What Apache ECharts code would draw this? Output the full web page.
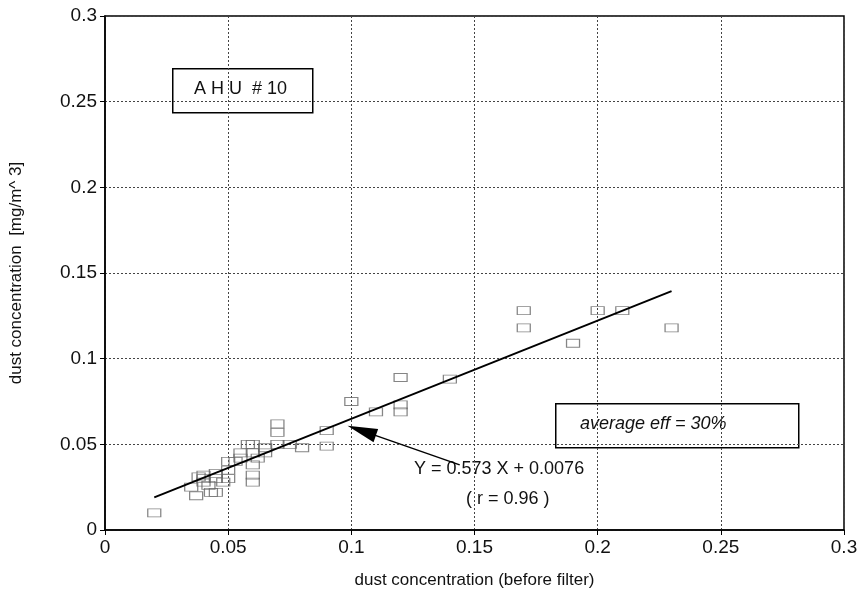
<!DOCTYPE html>
<html>
<head>
<meta charset="utf-8">
<script src="https://cdn.jsdelivr.net/npm/echarts@6/dist/echarts.min.js"></script>
<style>
  html, body { margin: 0; padding: 0; background: #fff; }
  #chart { width: 862px; height: 596px; }
</style>
</head>
<body>
<div id="chart"></div>
<script>
// measured points: dust before filter (x) vs after filter (y), mg/m^3
var beforeFilter = [
  0.02, 0.035, 0.037, 0.038, 0.04, 0.04, 0.04, 0.042, 0.043, 0.045,
  0.045, 0.045, 0.048, 0.05, 0.05, 0.05, 0.053, 0.055, 0.055, 0.058,
  0.06, 0.06, 0.06, 0.06, 0.06, 0.062, 0.065, 0.065, 0.07, 0.07,
  0.07, 0.075, 0.08, 0.09, 0.09, 0.1, 0.11, 0.12, 0.12, 0.12,
  0.14, 0.17, 0.17, 0.19, 0.2, 0.21, 0.23
];
var afterFilter = [
  0.01, 0.025, 0.02, 0.031, 0.03, 0.028, 0.032, 0.026, 0.022, 0.03,
  0.033, 0.022, 0.028, 0.03, 0.035, 0.04, 0.04, 0.045, 0.042, 0.05,
  0.05, 0.045, 0.038, 0.032, 0.028, 0.042, 0.045, 0.048, 0.05, 0.062,
  0.057, 0.05, 0.048, 0.049, 0.058, 0.075, 0.069, 0.069, 0.073, 0.089,
  0.088, 0.128, 0.118, 0.109, 0.128, 0.128, 0.118
];
// regression Y = 0.573 X + 0.0076 over the measured range
var fitSlope = 0.573;
var fitIntercept = 0.0076;
var fitRange = [0.02, 0.23];
var axisTicks = [0, 0.05, 0.1, 0.15, 0.2, 0.25, 0.3];

var chart = echarts.init(document.getElementById('chart'));

var points = beforeFilter.map(function (x, i) { return [x, afterFilter[i]]; });
var fitLine = fitRange.map(function (x) { return [x, fitSlope * x + fitIntercept]; });

var font = 'Liberation Sans, Arial, sans-serif';

var option = {
  backgroundColor: '#fff',
  animation: false,
  grid: {
    left: 105, right: 18, top: 16, bottom: 66,
    outerBoundsMode: 'none',
    show: true, borderColor: '#000', borderWidth: 1.5
  },
  xAxis: {
    type: 'value',
    min: axisTicks[0], max: axisTicks[axisTicks.length - 1], interval: 0.05,
    name: 'dust concentration (before filter)',
    nameLocation: 'middle', nameGap: 42,
    nameTextStyle: { fontFamily: font, fontSize: 17, color: '#111' },
    axisLine: { lineStyle: { color: '#000', width: 1.5 } },
    axisTick: { inside: false, length: 5, lineStyle: { color: '#000' } },
    axisLabel: { fontFamily: font, fontSize: 19, color: '#111', margin: 8 },
    splitLine: { lineStyle: { color: '#444', type: [2, 2], width: 1 } }
  },
  yAxis: {
    type: 'value',
    min: axisTicks[0], max: axisTicks[axisTicks.length - 1], interval: 0.05,
    name: 'dust concentration  [mg/m^ 3]',
    nameLocation: 'middle', nameGap: 80, nameRotate: 90,
    nameTextStyle: { fontFamily: font, fontSize: 17, color: '#111' },
    axisLine: { lineStyle: { color: '#000', width: 1.5 } },
    axisTick: { inside: false, length: 5, lineStyle: { color: '#000' } },
    axisLabel: { fontFamily: font, fontSize: 19, color: '#111', margin: 8 },
    splitLine: { lineStyle: { color: '#444', type: [2, 2], width: 1 } }
  },
  series: [
    {
      type: 'scatter',
      data: points,
      symbol: 'rect',
      symbolSize: [13, 8],
      itemStyle: { color: 'rgba(255,255,255,0)', borderColor: '#666', borderWidth: 1 }
    },
    {
      type: 'line',
      data: fitLine,
      symbol: 'none',
      lineStyle: { color: '#000', width: 2 },
      markLine: {
        silent: true,
        symbol: ['none', 'triangle'],
        symbolSize: [14, 30],
        lineStyle: { color: '#000', width: 1.5, type: 'solid' },
        label: { show: false },
        data: [[{ coord: [0.144, 0.038] }, { coord: [0.1042, 0.058] }]]
      }
    }
  ],
  graphic: [
    {
      type: 'rect', left: 172, top: 68,
      shape: { width: 140, height: 44 },
      style: { fill: '#fff', stroke: '#000', lineWidth: 1.5 }
    },
    {
      type: 'text', left: 194, top: 80,
      style: { text: 'A H U  # 10', fontFamily: font, fontSize: 18, fill: '#111' }
    },
    {
      type: 'rect', left: 555, top: 403,
      shape: { width: 243, height: 44 },
      style: { fill: '#fff', stroke: '#000', lineWidth: 1.5 }
    },
    {
      type: 'text', left: 580, top: 415,
      style: { text: 'average eff = 30%', fontFamily: font, fontSize: 18, fontStyle: 'italic', fill: '#111' }
    },
    {
      type: 'text', left: 414, top: 460,
      style: { text: 'Y = 0.573 X + 0.0076', fontFamily: font, fontSize: 18, fill: '#111' }
    },
    {
      type: 'text', left: 466, top: 490,
      style: { text: '( r = 0.96 )', fontFamily: font, fontSize: 18, fill: '#111' }
    }
  ]
};

chart.setOption(option);
</script>
</body>
</html>
